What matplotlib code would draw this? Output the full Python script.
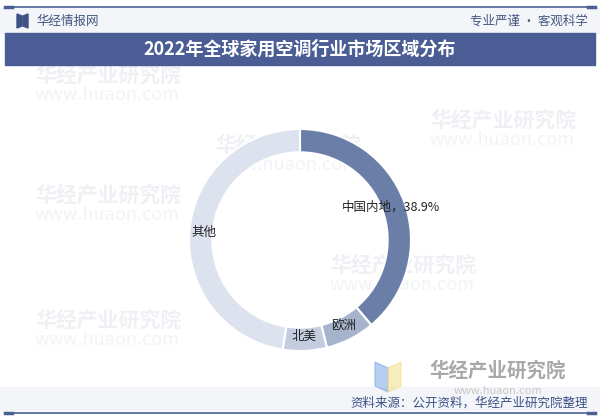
import matplotlib
matplotlib.use("Agg")
import matplotlib.pyplot as plt
from matplotlib.patches import Rectangle, Polygon

plt.rcParams['font.family'] = ['Noto Sans CJK SC', 'DejaVu Sans']

categories = ["中国内地", "欧洲", "北美", "其他"]
values = [38.9, 7.2, 6.4, 47.5]
labels = ["中国内地，38.9%", "欧洲", "北美", "其他"]
colors = ["#6a7ea8", "#a6b3cd", "#c4cde0", "#dde3ee"]

title = "2022年全球家用空调行业市场区域分布"
W, H = 600, 418
fig = plt.figure(figsize=(W / 100, H / 100), dpi=100)
fig.patch.set_facecolor("white")

bg = fig.add_axes([0, 0, 1, 1])
bg.set_xlim(0, W)
bg.set_ylim(H, 0)
bg.axis("off")

# header band
bg.add_patch(Rectangle((0, 8), W, 25, color="#f3f5f9", zorder=0))
bg.plot([5, 595], [7, 7], color="#4a5f94", lw=1.2)
bg.plot([5, 12], [7, 7], color="#4a5f94", lw=2.5)
bg.plot([588, 595], [7, 7], color="#4a5f94", lw=2.5)
# header logo
bg.add_patch(Polygon([[17, 14], [22, 16], [22, 26], [17, 28]], color="#3d5387"))
bg.add_patch(Polygon([[28, 14], [23, 16], [23, 26], [28, 28]], color="#3d5387"))
bg.text(36, 21, "华经情报网", fontsize=9, color="#44567f", va="center", ha="left")
bg.text(588, 21, "专业严谨 • 客观科学", fontsize=9, color="#44567f", va="center", ha="right")

# title bar
bg.add_patch(Rectangle((5, 33), 590, 32, color="#4a5e95", zorder=1))
bg.text(300, 49, title, fontsize=13, color="white", weight="bold",
        va="center", ha="center", zorder=2)

# watermarks (very faint)
wm_pos = [(35, 75), (215, 145), (35, 195), (330, 265), (35, 320), (430, 120)]
for (x, y) in wm_pos:
    bg.text(x, y, "华经产业研究院", fontsize=15, color="#eef0f4", weight="bold",
            va="center", ha="left", zorder=0.5)
    bg.text(x, y + 20, "www.huaon.com", fontsize=13, color="#f1f3f6",
            va="center", ha="left", zorder=0.5)

# footer band
bg.add_patch(Rectangle((0, 387), W, 23, color="#f3f5f9", zorder=0))
bg.plot([5, 595], [413, 413], color="#4a5f94", lw=1.2)
bg.plot([5, 12], [413, 413], color="#4a5f94", lw=2.5)
bg.plot([588, 595], [413, 413], color="#4a5f94", lw=2.5)
# footer logo
bg.add_patch(Polygon([[375, 362], [388, 368], [388, 392], [375, 386]], color="#7aa6e8", alpha=0.55, zorder=1))
bg.add_patch(Polygon([[401, 362], [388, 368], [388, 392], [401, 386]], color="#f3df86", alpha=0.55, zorder=1))
bg.text(498, 371, "华经产业研究院", fontsize=14, color="#a8a8a8", weight="bold",
        va="center", ha="center", zorder=1)
bg.text(498, 390.5, "www.huaon.com", fontsize=8, color="#c8c8c8",
        va="center", ha="center", zorder=1)
bg.text(588, 403, "资料来源：公开资料，华经产业研究院整理", fontsize=9, color="#3d5387",
        va="center", ha="right", zorder=2)

# donut
cx, cy, r = 300, 240, 111
ax = fig.add_axes([(cx - r) / W, (H - cy - r) / H, 2 * r / W, 2 * r / H])
ax.patch.set_alpha(0)
wedges, texts = ax.pie(values, labels=labels, colors=colors, startangle=90,
                       counterclock=False, labeldistance=0.87,
                       wedgeprops=dict(width=0.21, edgecolor="white", linewidth=1.5),
                       textprops=dict(ha="center", va="center", fontsize=9, color="#222222"))
ax.set_xlim(-1, 1)
ax.set_ylim(-1, 1)
ax.set_aspect("equal")
ax.axis("off")

fig.savefig("out.png", dpi=100)
